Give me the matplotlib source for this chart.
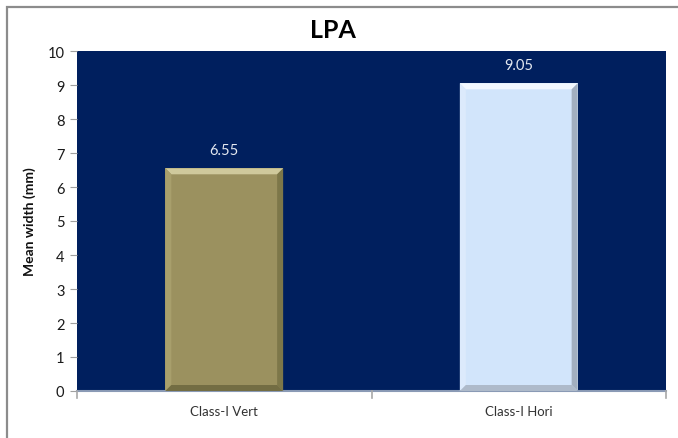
import matplotlib
matplotlib.use("Agg")
import matplotlib.pyplot as plt
from matplotlib.patches import Polygon, Rectangle

categories = ["Class-I Vert", "Class-I Hori"]
values = [6.55, 9.05]
value_labels = ["6.55", "9.05"]
y_ticks = [0, 1, 2, 3, 4, 5, 6, 7, 8, 9, 10]

face_colors = ["#9B915F", "#D2E5FB"]
light_edges = ["#CFC99C", "#F2F8FF"]
side_light = ["#A89F6C", "#DCEAFC"]
side_dark = ["#7D7749", "#A2AFC0"]
bottom_dark = ["#736D43", "#AEBACA"]

plt.rcParams['font.family'] = ['Lato', 'DejaVu Sans']

fig = plt.figure(figsize=(6.78, 4.39), dpi=100)
fig.patch.set_facecolor("white")

# outer chart frame (left and top edges visible)
fig.add_artist(Rectangle((7 / 678, -0.2), 2.0, 1 - 8 / 439 + 0.2,
                         transform=fig.transFigure, fill=False,
                         edgecolor="#8C8C8C", linewidth=1.6))

ax = fig.add_axes([77 / 678, 47 / 439, 589 / 678, 340 / 439])
ax.set_facecolor("#001F5E")
ax.set_xlim(-0.5, len(categories) - 0.5)
ax.set_ylim(0, 10)

bar_w = 0.4
x = list(range(len(categories)))
ax.bar(x, values, width=bar_w, color=face_colors, edgecolor="none", zorder=2)

# bevel edges sized in pixels, converted to data units
px_x = (ax.get_xlim()[1] - ax.get_xlim()[0]) / 589
px_y = (ax.get_ylim()[1] - ax.get_ylim()[0]) / 340
bx, by = 6 * px_x, 6 * px_y
for i, (xi, v) in enumerate(zip(x, values)):
    l, r, b, t = xi - bar_w / 2, xi + bar_w / 2, 0, v
    ax.add_patch(Polygon([(l, t), (r, t), (r - bx, t - by), (l + bx, t - by)],
                         closed=True, facecolor=light_edges[i], edgecolor="none", zorder=3))
    ax.add_patch(Polygon([(l, t), (l + bx, t - by), (l + bx, b + by), (l, b)],
                         closed=True, facecolor=side_light[i], edgecolor="none", zorder=3))
    ax.add_patch(Polygon([(r, t), (r - bx, t - by), (r - bx, b + by), (r, b)],
                         closed=True, facecolor=side_dark[i], edgecolor="none", zorder=3))
    ax.add_patch(Polygon([(l, b), (l + bx, b + by), (r - bx, b + by), (r, b)],
                         closed=True, facecolor=bottom_dark[i], edgecolor="none", zorder=3))
    ax.text(xi, v + 0.32, value_labels[i], ha="center", va="bottom",
            color="#E4E8F0", fontsize=10.5, zorder=4)

ax.set_yticks(y_ticks)
ax.set_yticklabels([str(t) for t in y_ticks], fontsize=10.5, color="#1A1A1A")
ax.set_xticks(x)
ax.set_xticklabels(categories, fontsize=9.5, color="#333333")
ax.tick_params(axis="x", length=0, pad=10)
ax.tick_params(axis="y", length=5, color="#A0A0A0", pad=4)

# category separator ticks
for sep in [-0.5, 0.5, 1.5]:
    ax.plot([sep, sep], [0, -0.2], color="#A8A8A8", lw=1.2, clip_on=False, zorder=5)

for s in ["top", "right", "left"]:
    ax.spines[s].set_visible(False)
ax.spines["bottom"].set_color("#8A9AB5")
ax.spines["bottom"].set_linewidth(1.5)

ax.set_ylabel("Mean width (mm)", fontsize=10, fontweight="bold", color="#111111", labelpad=8)
fig.text(333 / 678, 1 - 31 / 439, "LPA", ha="center", va="center",
         fontsize=18, fontweight="bold", color="#000000")

fig.savefig("out.png", dpi=100)
